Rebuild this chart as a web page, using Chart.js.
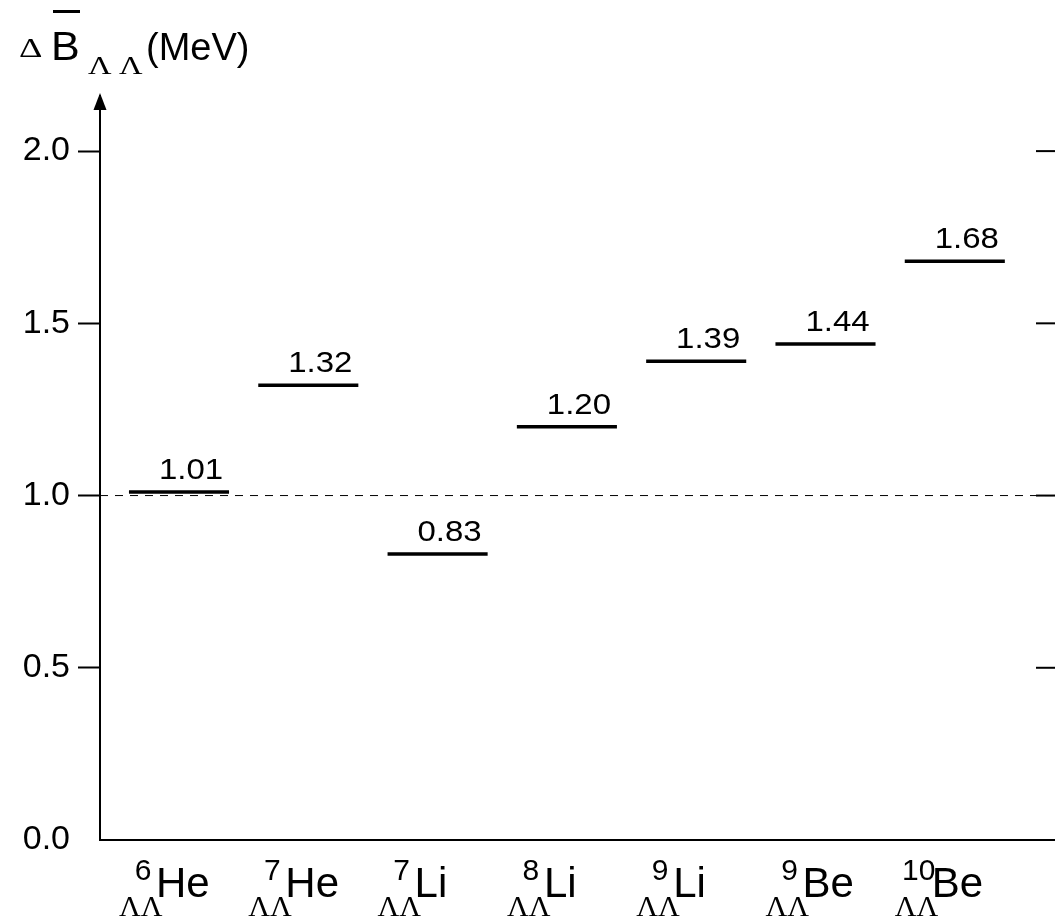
<!DOCTYPE html>
<html>
<head>
<meta charset="utf-8">
<script src="https://cdn.jsdelivr.net/npm/chart.js@4"></script>
<style>
  html, body { margin: 0; padding: 0; background: #fff; }
  #wrap { width: 1055px; height: 917px; position: relative; }
</style>
</head>
<body>
<div id="wrap"><canvas id="levelChart"></canvas></div>
<script>
// Data
const massNumbers = ['6', '7', '7', '8', '9', '9', '10'];
const elements = ['He', 'He', 'Li', 'Li', 'Li', 'Be', 'Be'];
const deltaB = [1.01, 1.32, 0.83, 1.20, 1.39, 1.44, 1.68];
const yTicks = [0.0, 0.5, 1.0, 1.5, 2.0];
const refLevel = 1.0;

// Axis range (x in category units)
const X_MIN = -0.611, X_MAX = 6.775;
const Y_MIN = 0, Y_MAX = 2.16;
const HALF = 0.387; // half length of each level line

const SANS = '"Liberation Sans", Arial, Helvetica, sans-serif';
const SERIF = '"Liberation Serif", "Times New Roman", serif';

function drawText(ctx, str, x, y, font, align, sx) {
    ctx.save();
    ctx.font = font;
    ctx.textAlign = align;
    ctx.textBaseline = 'alphabetic';
    ctx.fillStyle = '#000';
    ctx.translate(x, y);
    ctx.scale(sx || 1, 1);
    ctx.fillText(str, 0, 0);
    ctx.restore();
}

// Arrow, right-side ticks, value labels, nucleus names, axis title
const overlay = {
    id: 'overlay',
    afterDraw(chart) {
        const { ctx, chartArea } = chart;
        const x = chart.scales.x;
        const y = chart.scales.y;

        // arrow head on the y axis
        ctx.save();
        ctx.fillStyle = '#000';
        ctx.beginPath();
        ctx.moveTo(chartArea.left, chartArea.top - 3);
        ctx.lineTo(chartArea.left - 6.5, chartArea.top + 14);
        ctx.lineTo(chartArea.left + 6.5, chartArea.top + 14);
        ctx.closePath();
        ctx.fill();

        // short ticks on the right edge
        ctx.strokeStyle = '#000';
        ctx.lineWidth = 2;
        yTicks.filter(v => v > 0).forEach(v => {
            const py = y.getPixelForValue(v);
            ctx.beginPath();
            ctx.moveTo(chartArea.right - 19, py);
            ctx.lineTo(chartArea.right, py);
            ctx.stroke();
        });
        ctx.restore();

        // value labels above each level
        deltaB.forEach((v, i) => {
            drawText(ctx, v.toFixed(2), x.getPixelForValue(i) + 12, y.getPixelForValue(v) - 13,
                '30px ' + SANS, 'center', 1.1);
        });

        // nucleus labels under the axis
        elements.forEach((el, i) => {
            const c = x.getPixelForValue(i);
            drawText(ctx, el, c - 23, 897, '42px ' + SANS, 'left');
            drawText(ctx, massNumbers[i], c - 36, 880, '30px ' + SANS, 'center');
            drawText(ctx, '\u039B\u039B', c - 60, 916, '30px ' + SERIF, 'left');
        });

        // axis title: Δ B̄_ΛΛ (MeV)
        drawText(ctx, '\u0394', 19, 57, '27px ' + SERIF, 'left', 1.35);
        drawText(ctx, 'B', 51, 59.5, '41px ' + SANS, 'left', 1.05);
        ctx.fillStyle = '#000';
        ctx.fillRect(53, 10, 27, 3);
        drawText(ctx, '\u039B', 88, 74, '25px ' + SERIF, 'left', 1.3);
        drawText(ctx, '\u039B', 119, 74, '25px ' + SERIF, 'left', 1.3);
        drawText(ctx, '(MeV)', 146, 59.5, '38px ' + SANS, 'left');
    }
};

const levelSets = deltaB.map((v, i) => ({
    data: [{ x: i - HALF, y: v }, { x: i + HALF, y: v }],
    borderColor: '#000',
    borderWidth: 3.5,
    borderCapStyle: 'butt',
    pointRadius: 0,
    showLine: true
}));

const refSet = {
    data: [{ x: X_MIN, y: refLevel }, { x: X_MAX, y: refLevel }],
    borderColor: '#000',
    borderWidth: 1,
    borderDash: [8, 7],
    pointRadius: 0,
    showLine: true
};

const chartCtx = document.getElementById('levelChart').getContext('2d');
const levelChart = new Chart(chartCtx, {
    type: 'scatter',
    data: { datasets: levelSets.concat([refSet]) },
    plugins: [overlay],
    options: {
        responsive: true,
        maintainAspectRatio: false,
        animation: false,
        layout: { padding: { top: 96, right: 0, bottom: 0, left: 0 } },
        plugins: {
            legend: { display: false },
            tooltip: { enabled: false }
        },
        scales: {
            x: {
                type: 'linear',
                min: X_MIN,
                max: X_MAX,
                grid: { display: false },
                ticks: { display: false },
                border: { display: true, color: '#000', width: 2 },
                afterFit: function(scale) { scale.height = 77; }
            },
            y: {
                type: 'linear',
                min: Y_MIN,
                max: Y_MAX,
                afterBuildTicks: function(scale) {
                    scale.ticks = yTicks.map(v => ({ value: v }));
                },
                afterFit: function(scale) { scale.width = 100; },
                grid: {
                    drawOnChartArea: false,
                    drawTicks: true,
                    tickLength: 22,
                    tickWidth: 2,
                    tickColor: function(c) {
                        return c.tick && c.tick.value === 0 ? 'rgba(0,0,0,0)' : '#000';
                    }
                },
                border: { display: true, color: '#000', width: 2 },
                ticks: {
                    color: '#000',
                    padding: 8,
                    font: { family: SANS, size: 34 },
                    callback: function(value) { return value.toFixed(1); }
                }
            }
        }
    }
});
</script>
</body>
</html>
